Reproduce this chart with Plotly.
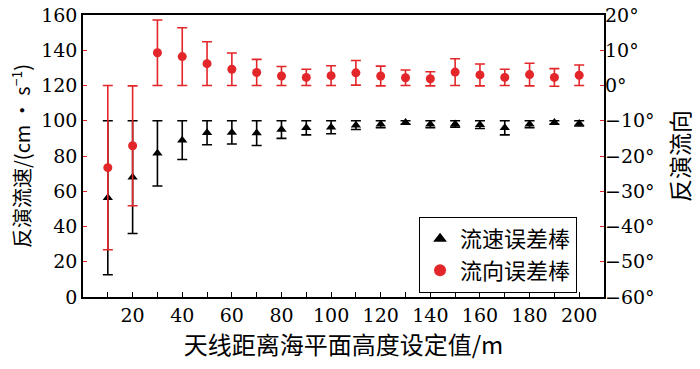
import plotly.graph_objects as go

heights = [10, 20, 30, 40, 50, 60, 70, 80, 90, 100, 110, 120, 130, 140, 150, 160, 170, 180, 190, 200]
speed = [56.3, 68, 81.5, 89, 93.2, 93.4, 93, 95, 96, 96.3, 97.5, 98, 99, 98, 98.2, 97.8, 96, 98, 99, 98.5]
speed_err = [43.7, 32, 18.5, 11, 6.8, 6.6, 7, 5, 4, 3.7, 2.5, 2, 1, 2, 1.8, 2.2, 4, 2, 1, 1.5]
direction = [-23.3, -17.1, 9.3, 8.2, 6.2, 4.6, 3.7, 2.7, 2.3, 2.8, 3.6, 2.7, 2.2, 1.9, 3.8, 3.0, 2.3, 3.1, 2.3, 2.9]
direction_err = [23.3, 17, 9.3, 8.2, 6.2, 4.6, 3.7, 2.7, 2.3, 2.8, 3.5, 2.8, 2.2, 2.0, 3.8, 3.1, 2.3, 3.2, 2.5, 2.9]
x_ticks = [20, 40, 60, 80, 100, 120, 140, 160, 180, 200]

RED = "#e3262a"
CJK = "Noto Sans CJK SC"
NUM = "DejaVu Serif"

fig = go.Figure()
fig.add_trace(go.Scatter(
    x=heights, y=speed, mode="markers", name="流速误差棒",
    marker=dict(symbol="triangle-up", size=9, color="black"),
    error_y=dict(type="data", array=speed_err, color="black", thickness=1.6, width=5),
))
fig.add_trace(go.Scatter(
    x=heights, y=direction, mode="markers", name="流向误差棒", yaxis="y2",
    marker=dict(symbol="circle", size=9, color=RED),
    error_y=dict(type="data", array=direction_err, color=RED, thickness=1.6, width=5),
))

fig.update_layout(
    width=700, height=369,
    margin=dict(l=83, r=96, t=15, b=72),
    paper_bgcolor="white", plot_bgcolor="white",
    font=dict(family=NUM, size=19, color="black"),
    showlegend=True,
    legend=dict(
        x=0.645, y=0.284, xanchor="left", yanchor="top",
        bordercolor="black", borderwidth=1, bgcolor="white",
        font=dict(family=CJK, size=22),
        itemsizing="constant", tracegroupgap=0,
    ),
    xaxis=dict(
        range=[0, 210], tickvals=x_ticks, ticks="inside", ticklen=5, tickcolor="black",
        minor=dict(dtick=10, tick0=0, ticks="inside", ticklen=5, tickcolor="black"),
        showline=True, linecolor="black", linewidth=1.5, mirror=True,
        showgrid=False, zeroline=False, automargin=False,
        tickfont=dict(family=NUM, size=19),
        title=dict(text="天线距离海平面高度设定值/m", font=dict(family=CJK, size=24), standoff=9),
    ),
    yaxis=dict(
        range=[0, 160], dtick=20, ticks="inside", ticklen=4, tickcolor=RED,
        showline=True, linecolor="black", linewidth=1.5, mirror=True,
        showgrid=False, zeroline=False, automargin=False,
        tickfont=dict(family=NUM, size=19),
        title=dict(text="反演流速/(cm • s<sup>−1</sup>)", font=dict(family=CJK, size=20), standoff=5),
    ),
    yaxis2=dict(
        range=[-60, 20], dtick=10, overlaying="y", side="right",
        ticks="inside", ticklen=4, tickcolor=RED,
        showline=False, showgrid=False, zeroline=False, automargin=False,
        ticksuffix="°",
        tickfont=dict(family=NUM, size=19),
        title=dict(text="反演流向", font=dict(family=CJK, size=23), standoff=19),
    ),
)

fig.write_html("out.html", config={"displayModeBar": False},
               post_script="document.body.style.margin='0';")
